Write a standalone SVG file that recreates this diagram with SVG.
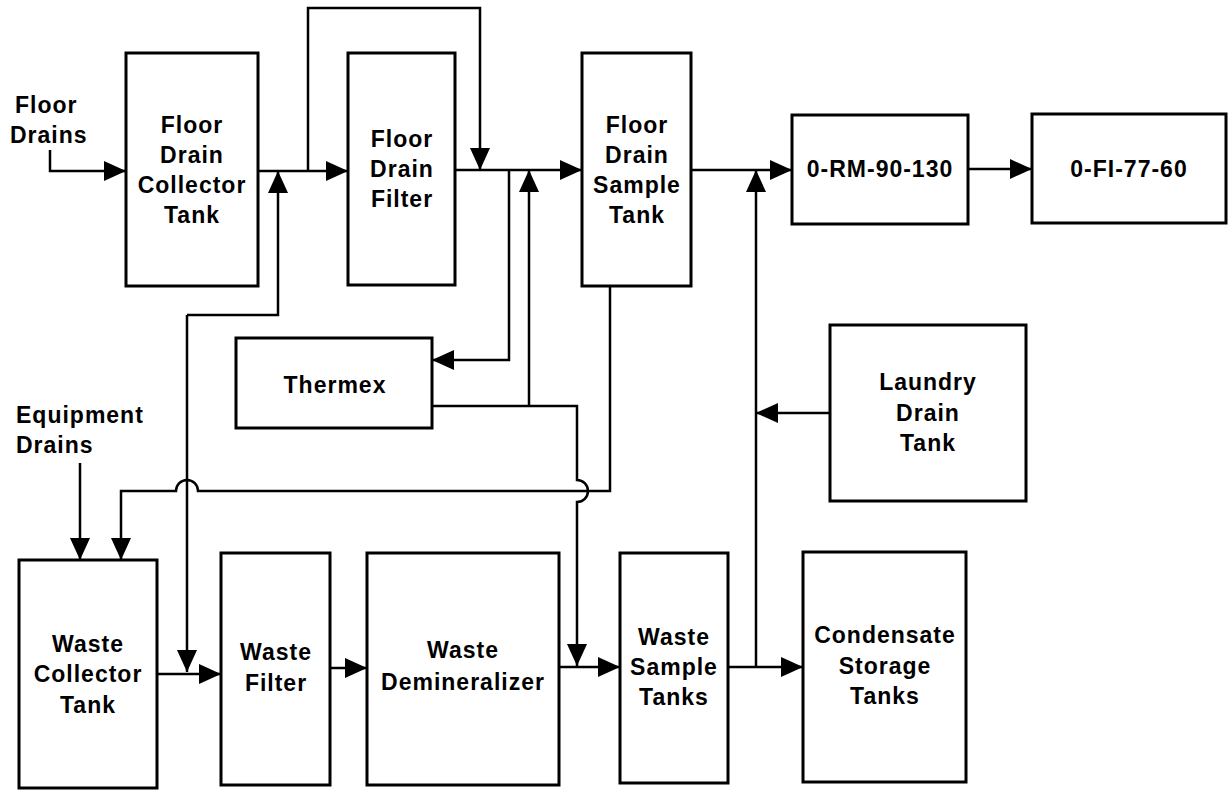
<svg xmlns="http://www.w3.org/2000/svg" width="1228" height="790" viewBox="0 0 1228 790">
<style>
.box{fill:#fff;stroke:#000;stroke-width:3}
.ln{fill:none;stroke:#000;stroke-width:2.5;marker-end:url(#ah)}
.pl{fill:none;stroke:#000;stroke-width:2.5}
text{font-family:"Liberation Sans",Arial,sans-serif;font-weight:bold;font-size:23px;letter-spacing:1px;fill:#000}
.c{text-anchor:middle}
</style>
<defs>
<marker id="ah" markerUnits="userSpaceOnUse" markerWidth="22" markerHeight="20" refX="22" refY="10" orient="auto">
<path d="M0,0 L22,10 L0,20 z" fill="#000"/>
</marker>
</defs>
<rect width="1228" height="790" fill="#fff"/>
<g id="connectors">
<path class="ln" d="M50,150 V171 H126"/>
<path class="ln" d="M258,171 H348"/>
<path class="ln" d="M308,171 V8 H480 V170"/>
<path class="ln" d="M455,170 H582"/>
<path class="ln" d="M187,315 H278 V171"/>
<path class="ln" d="M187,315 V672"/>
<path class="ln" d="M509,170 V360 H432"/>
<path class="ln" d="M529,406 V170"/>
<path class="ln" d="M432,406 H577 V480 A11,11 0 0 1 577,502 V666"/>
<path class="ln" d="M610,286 V491 H198 A11,11 0 0 0 176,491 H121 V560"/>
<path class="ln" d="M80,463 V560"/>
<path class="ln" d="M691,170 H792"/>
<path class="ln" d="M968,169 H1032"/>
<path class="ln" d="M830,413 H756"/>
<path class="ln" d="M756,667 V170"/>
<path class="ln" d="M157,674 H221"/>
<path class="ln" d="M330,668 H367"/>
<path class="ln" d="M559,667 H620"/>
<path class="ln" d="M728,667 H803"/>
</g>
<g id="floor-drains-label">
<text x="15" y="113">Floor</text>
<text x="10" y="143">Drains</text>
</g>
<g id="equipment-drains-label">
<text x="16" y="423">Equipment</text>
<text x="16" y="453">Drains</text>
</g>
<g id="floor-drain-collector-tank">
<rect class="box" x="126" y="53" width="132" height="233"/>
<text class="c" x="192" y="133">Floor</text>
<text class="c" x="192" y="163">Drain</text>
<text class="c" x="192" y="193">Collector</text>
<text class="c" x="192" y="223">Tank</text>
</g>
<g id="floor-drain-filter">
<rect class="box" x="348" y="53" width="107" height="232"/>
<text class="c" x="402" y="147">Floor</text>
<text class="c" x="402" y="177">Drain</text>
<text class="c" x="402" y="207">Filter</text>
</g>
<g id="floor-drain-sample-tank">
<rect class="box" x="582" y="53" width="109" height="233"/>
<text class="c" x="637" y="133">Floor</text>
<text class="c" x="637" y="163">Drain</text>
<text class="c" x="637" y="193">Sample</text>
<text class="c" x="637" y="223">Tank</text>
</g>
<g id="rm-90-130">
<rect class="box" x="792" y="115" width="176" height="109"/>
<text class="c" x="880" y="177">0-RM-90-130</text>
</g>
<g id="fi-77-60">
<rect class="box" x="1032" y="114" width="194" height="109"/>
<text class="c" x="1129" y="177">0-FI-77-60</text>
</g>
<g id="thermex">
<rect class="box" x="236" y="338" width="196" height="90"/>
<text class="c" x="335" y="393">Thermex</text>
</g>
<g id="laundry-drain-tank">
<rect class="box" x="830" y="325" width="196" height="176"/>
<text class="c" x="928" y="390">Laundry</text>
<text class="c" x="928" y="421">Drain</text>
<text class="c" x="928" y="451">Tank</text>
</g>
<g id="waste-collector-tank">
<rect class="box" x="19" y="560" width="138" height="228"/>
<text class="c" x="88" y="652">Waste</text>
<text class="c" x="88" y="682">Collector</text>
<text class="c" x="88" y="713">Tank</text>
</g>
<g id="waste-filter">
<rect class="box" x="221" y="553" width="109" height="232"/>
<text class="c" x="276" y="660">Waste</text>
<text class="c" x="276" y="691">Filter</text>
</g>
<g id="waste-demineralizer">
<rect class="box" x="367" y="553" width="192" height="232"/>
<text class="c" x="463" y="658">Waste</text>
<text class="c" x="463" y="690">Demineralizer</text>
</g>
<g id="waste-sample-tanks">
<rect class="box" x="620" y="553" width="108" height="230"/>
<text class="c" x="674" y="645">Waste</text>
<text class="c" x="674" y="675">Sample</text>
<text class="c" x="674" y="705">Tanks</text>
</g>
<g id="condensate-storage-tanks">
<rect class="box" x="803" y="552" width="163" height="230"/>
<text class="c" x="885" y="643">Condensate</text>
<text class="c" x="885" y="674">Storage</text>
<text class="c" x="885" y="704">Tanks</text>
</g>
</svg>
